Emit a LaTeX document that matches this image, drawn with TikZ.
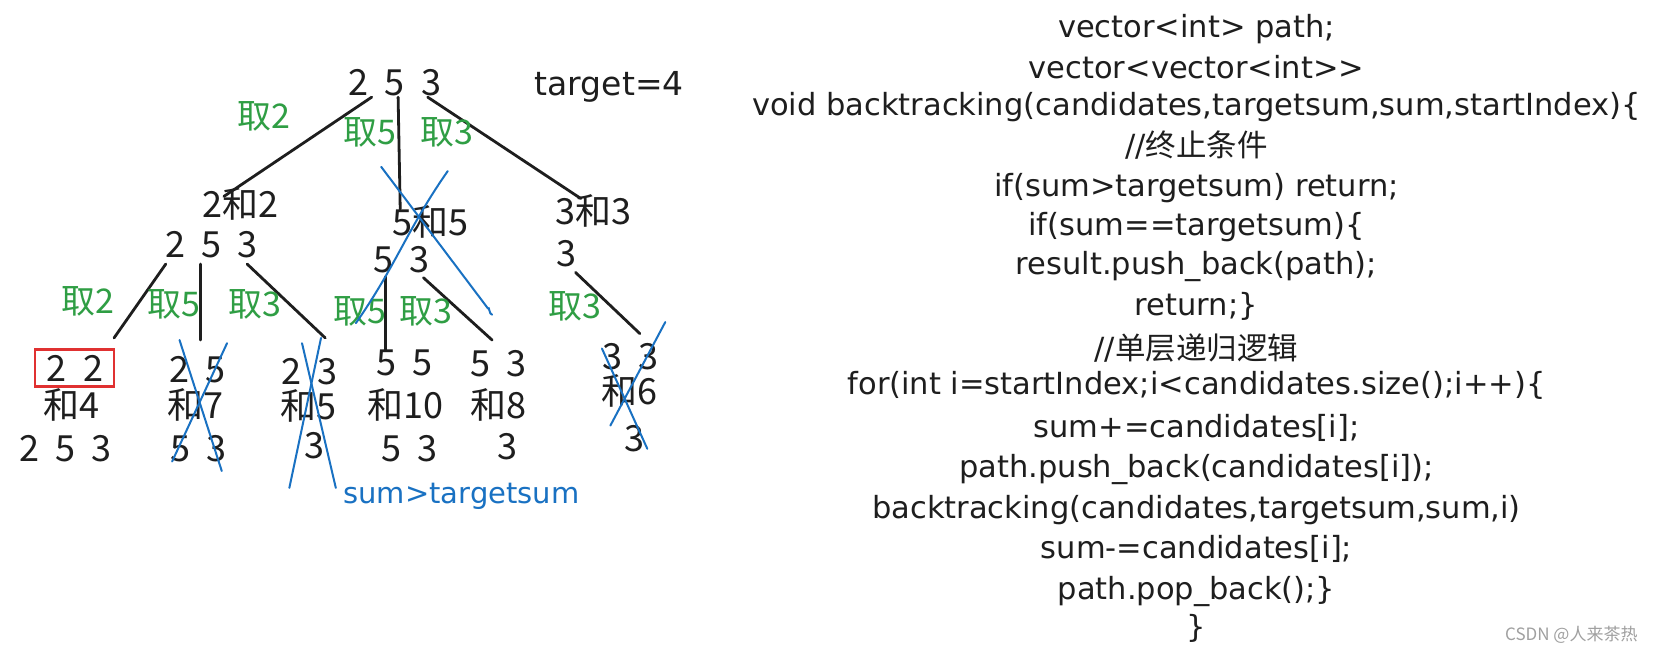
\documentclass[tikz,border=0pt]{standalone}
\usepackage{fontspec}
\setmainfont{DejaVu Sans}
\newfontfamily\zhfont{Noto Sans CJK SC}
\newcommand{\zh}[1]{{\zhfont #1}}
\definecolor{ink}{HTML}{1E1E1E}
\definecolor{grn}{HTML}{2F9E44}
\definecolor{blu}{HTML}{1971C2}
\definecolor{rd}{HTML}{E03131}
\definecolor{wm}{HTML}{A0A0A0}
\newcommand{\dsp}{\hspace{0.45em}}
\tikzset{
  num/.style={inner sep=0pt, text=ink, font=\zhfont\fontsize{36}{38}\selectfont},
  lbl/.style={inner sep=0pt, text=grn, font=\zhfont\fontsize{34}{36}\selectfont},
  code/.style={inner sep=0pt, text=ink, font=\fontsize{30.5}{32}\selectfont},
  edge/.style={draw=ink, line width=2.8pt, line cap=round},
  cross/.style={draw=blu, line width=2pt, line cap=round},
}
\begin{document}
\begin{tikzpicture}[x=1.056pt,y=-1.056pt]
\useasboundingbox[fill=white] (0,0) rectangle (1565.34,617.42);
% ---------- tree ----------
\node[num] (root) at (374,78) {2\dsp5\dsp3};
\node[inner sep=0pt, text=ink, font=\fontsize{33}{35}\selectfont] (target) at (577,82) {target=4};
\node[num] (a) at (228,193) {2和2};
\node[num] (ab) at (200,232) {2\dsp5\dsp3};
\node[num] (b) at (408,210) {5和5};
\node[num] (bb) at (380,246) {5\dsp3};
\node[num] (c) at (562,200) {3和3};
\node[num] (cb) at (536,240) {3};
% leaves
\node[num] (l1) at (71,349) {2\dsp2};
\node[num] (l1s) at (68,383) {和4};
\node[num] (l1b) at (62,425) {2\dsp5\dsp3};
\node[num] (l2) at (187,350) {2\dsp5};
\node[num] (l2s) at (185,383) {和7};
\node[num] (l2b) at (188,425) {5\dsp3};
\node[num] (l3) at (293,352) {2\dsp3};
\node[num] (l3s) at (292,384) {和5};
\node[num] (l3b) at (298,422) {3};
\node[num] (l4) at (383,344) {5\dsp5};
\node[num] (l4s) at (384,383) {和10};
\node[num] (l4b) at (388,425) {5\dsp3};
\node[num] (l5) at (472,344) {5\dsp3};
\node[num] (l5s) at (472,383) {和8};
\node[num] (l5b) at (481,423) {3};
\node[num] (l6) at (597,338) {3\dsp3};
\node[num] (l6s) at (596,370) {和6};
\node[num] (l6b) at (601,415) {3};
% red box
\node[draw=rd, line width=2.6pt, minimum width=79pt, minimum height=37pt, inner sep=0pt] (box) at (70.5,348.5) {};
% edge end points
\coordinate (r1) at (352,92);  \coordinate (a1) at (212,186);
\coordinate (r2) at (377,92);  \coordinate (b1) at (379,198);
\coordinate (r3) at (405,92);  \coordinate (c1) at (550,188);
\coordinate (ab1) at (157,250); \coordinate (l1t) at (108,320);
\coordinate (ab2) at (190,250); \coordinate (l2t) at (190,322);
\coordinate (ab3) at (234,250); \coordinate (l3t) at (308,320);
\coordinate (bb1) at (365,262); \coordinate (l4t) at (365,332);
\coordinate (bb2) at (401,263); \coordinate (l5t) at (466,322);
\coordinate (cb1) at (545,258); \coordinate (l6t) at (606,316);
\draw[edge] (r1) -- (a1);
\draw[edge] (r2) -- (b1);
\draw[edge] (r3) -- (c1);
\draw[edge] (ab1) -- (l1t);
\draw[edge] (ab2) -- (l2t);
\draw[edge] (ab3) -- (l3t);
\draw[edge] (bb1) -- (l4t);
\draw[edge] (bb2) -- (l5t);
\draw[edge] (cb1) -- (l6t);
% edge labels
\node[lbl] (t1) at (250,110) {取2};
\node[lbl] (t2) at (350,125) {取5};
\node[lbl] (t3) at (423,125) {取3};
\node[lbl] (t4) at (83,285) {取2};
\node[lbl] (t5) at (165,288) {取5};
\node[lbl] (t6) at (241,288) {取3};
\node[lbl] (t7) at (341,295) {取5};
\node[lbl] (t8) at (403,295) {取3};
\node[lbl] (t9) at (544,290) {取3};
% blue crosses
\coordinate (x1a) at (361,158); \coordinate (x1b) at (462,292); \coordinate (x1c) at (466,298);
\coordinate (x1d) at (424,162); \coordinate (x1e) at (337,306);
\draw[cross] (x1a) -- (x1b) to[out=60,in=180] (x1c);
\draw[cross] (x1d) to[out=235,in=55] (x1e);
\coordinate (x2a) at (170,322); \coordinate (x2b) at (210,446);
\coordinate (x2c) at (215,325); \coordinate (x2d) at (163,437);
\draw[cross] (x2a) -- (x2b);
\draw[cross] (x2c) -- (x2d);
\coordinate (x3a) at (286,325); \coordinate (x3b) at (318,462);
\coordinate (x3c) at (304,320); \coordinate (x3d) at (274,462);
\draw[cross] (x3a) -- (x3b);
\draw[cross] (x3c) -- (x3d);
\coordinate (x4a) at (570,330); \coordinate (x4b) at (613,425);
\coordinate (x4c) at (630,305); \coordinate (x4d) at (578,403);
\draw[cross] (x4a) -- (x4b);
\draw[cross] (x4c) -- (x4d);
\node[inner sep=0pt, text=blu, font=\fontsize{29}{31}\selectfont] (warn) at (437,470) {sum>targetsum};
% ---------- code ----------
\node[code] (c01) at (1133,28)  {vector<int> path;};
\node[code] (c02) at (1133,64)  {vector<vector<int>{}>};
\node[code] (c03) at (1133,101) {void backtracking(candidates,targetsum,sum,startIndex)\{};
\node[code] (c04) at (1133,137) {//\zh{终止条件}};
\node[code] (c05) at (1133,178) {if(sum>targetsum) return;};
\node[code] (c06) at (1133,215) {if(sum==targetsum)\{};
\node[code] (c07) at (1133,252) {result.push\_back(path);};
\node[code] (c08) at (1133,290) {return;\}};
\node[code] (c09) at (1133,330) {//\zh{单层递归逻辑}};
\node[code] (c10) at (1133,365) {for(int i=startIndex;i<candidates.size();i++)\{};
\node[code] (c11) at (1133,405) {sum+=candidates[i];};
\node[code] (c12) at (1133,445) {path.push\_back(candidates[i]);};
\node[code] (c13) at (1133,483) {backtracking(candidates,targetsum,sum,i)};
\node[code] (c14) at (1133,520) {sum-=candidates[i];};
\node[code] (c15) at (1133,560) {path.pop\_back();\}};
\node[code] (c16) at (1133,595) {\}};
\node[inner sep=0pt, text=wm, font=\zhfont\fontsize{17}{18}\selectfont] (wmk) at (1488,601) {CSDN @人来茶热};
\end{tikzpicture}
\end{document}
